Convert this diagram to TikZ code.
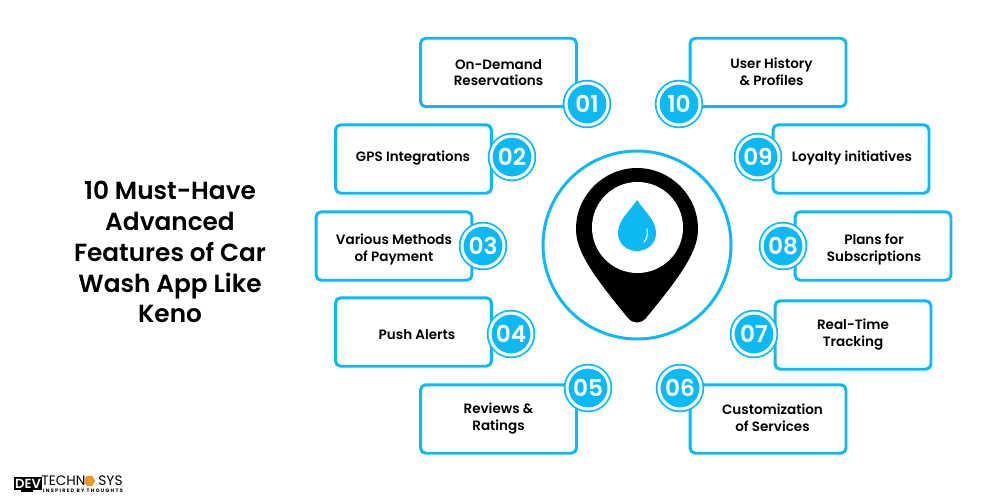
\documentclass[tikz,border=0pt]{standalone}
\usepackage{fontspec}
\setmainfont{Poppins}
\newfontfamily\medfont{Poppins SemiBold}
\usepackage{xcolor}
\usetikzlibrary{positioning,shapes.geometric}
\definecolor{dwsky}{RGB}{13,185,242}
\definecolor{dworange}{RGB}{240,150,40}
\tikzstyle{feature} = [rectangle, rounded corners=3pt, minimum width=3.12cm, minimum height=1.37cm, draw=dwsky, fill=white, line width=1.7pt]
\tikzstyle{caption} = [align=center, inner sep=0pt, font=\fontsize{7.7}{9.6}\selectfont\medfont]
\tikzstyle{badge} = [circle, minimum size=0.84cm, inner sep=0pt, draw=dwsky, fill=dwsky, line width=1pt, double=white, double distance=1.7pt, text=white, font=\fontsize{13.2}{14}\selectfont\medfont]

\begin{document}
\begin{tikzpicture}[x=0.02cm, y=-0.02cm]
\useasboundingbox (0,0) rectangle (1000,500);
% title
\node (title) at (170,252) [align=center, font=\fontsize{14.1}{17.6}\selectfont\medfont] {10 Must-Have\\Advanced\\Features of Car\\Wash App Like\\Keno};

% left column
\node (demand) [feature] at (498.5,72.5) {};
\node (gps) [feature] at (413.5,159) {};
\node (payment) [feature] at (394,246) {};
\node (push) [feature] at (413.5,332) {};
\node (reviews) [feature] at (498.5,419) {};

% right column
\node (history) [feature] at (768,72.5) {};
\node (loyalty) [feature] at (851,159) {};
\node (plans) [feature] at (873,246) {};
\node (tracking) [feature] at (853,335) {};
\node (custom) [feature] at (768,419) {};

% box texts
\node (demandtext) [caption] at (498.5,72.5) {On-Demand\\Reservations};
\node (gpstext) [caption] at (413,158) {GPS Integrations};
\node (paymenttext) [caption] at (394,249.5) {Various Methods\\of Payment};
\node (pushtext) [caption] at (417,335) {Push Alerts};
\node (reviewstext) [caption] at (498.5,418.5) {Reviews \&\\Ratings};
\node (historytext) [caption] at (771.5,72) {User History\\\& Profiles};
\node (loyaltytext) [caption] at (852,158) {Loyalty initiatives};
\node (planstext) [caption] at (874,249.5) {Plans for\\Subscriptions};
\node (trackingtext) [caption] at (853,334.5) {Real-Time\\Tracking};
\node (customtext) [caption] at (772.5,418) {Customization\\of Services};

% number badges
\node (n01) [badge] at (587,104) {01};
\node (n02) [badge] at (512,157) {02};
\node (n03) [badge] at (483,246) {03};
\node (n04) [badge] at (511,334) {04};
\node (n05) [badge] at (588,388) {05};
\node (n06) [badge] at (680,388) {06};
\node (n07) [badge] at (754,334) {07};
\node (n08) [badge] at (783,246) {08};
\node (n09) [badge] at (758,157) {09};
\node (n10) [badge] at (679,104) {10};

% centre pin
\draw[dwsky, line width=1.7pt] (637,245) circle (94);
\fill[black] (637,168) .. controls (604,168) and (576,195) .. (576,229)
  .. controls (576,250) and (590,272) .. (628,318)
  .. controls (633,324) and (641,324) .. (646,318)
  .. controls (684,272) and (698,250) .. (698,229)
  .. controls (698,195) and (670,168) .. (637,168) -- cycle;
\fill[white] (637.5,227.5) circle (45.5);
\fill[dwsky] (637,200) .. controls (630,211) and (618,220) .. (618,233)
  .. controls (618,244) and (627,251) .. (637,251)
  .. controls (647,251) and (656,244) .. (656,233)
  .. controls (656,220) and (644,211) .. (637,200) -- cycle;
\draw[white, line width=0.6pt, line cap=round] (647,229) .. controls (648,234) and (647,239) .. (644,242);

% logo
\fill[black] (14,477) rectangle (42,490);
\fill[black] (21,490) rectangle (33,492);
\node (dev) at (28,483.5) [text=white, inner sep=0pt, font=\fontsize{7.5}{8}\selectfont\medfont] {DEV};
\node (techn) at (63.5,480.5) [inner sep=0pt, font=\fontsize{7.8}{8}\selectfont] {TECHN};
\node (hex) at (89.5,481) [regular polygon, regular polygon sides=6, inner sep=0pt, minimum size=6.5pt, fill=dworange] {};
\node (sys) at (110.5,480.5) [inner sep=0pt, font=\fontsize{7.8}{8}\selectfont] {SYS};
\node (slogan) at (83,491) [inner sep=0pt, font=\fontsize{2.8}{3}\selectfont\bfseries\addfontfeature{LetterSpace=26}] {INSPIRED BY THOUGHTS};
\end{tikzpicture}
\end{document}
